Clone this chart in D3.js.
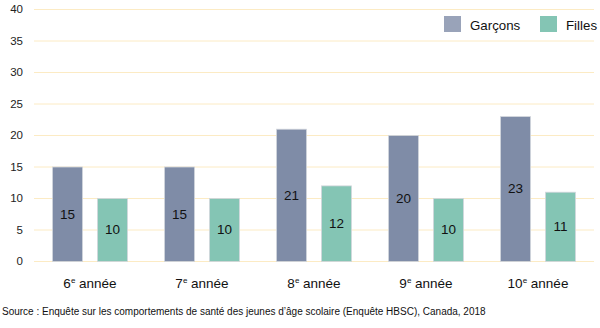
<!DOCTYPE html>
<html>
<head>
<meta charset="utf-8">
<script src="https://cdn.jsdelivr.net/npm/d3@7"></script>
<style>
  html, body { margin: 0; padding: 0; background: #fff; }
  svg { display: block; font-family: "Liberation Sans", Arial, sans-serif; }
</style>
</head>
<body>
<svg id="chart" width="600" height="328"></svg>
<script>
// Grade levels and percentages by gender
const grades = ["6", "7", "8", "9", "10"];
const garcons = [15, 15, 21, 20, 23];
const filles = [10, 10, 12, 10, 11];
const yTicks = [0, 5, 10, 15, 20, 25, 30, 35, 40];
const seriesNames = ["Garçons", "Filles"];
const colors = ["#7f8ca7", "#84c5b4"];
const sourceText = "Source : Enquête sur les comportements de santé des jeunes d’âge scolaire (Enquête HBSC), Canada, 2018";

(function () {
  const svg = d3.select("#chart");
  const plotLeft = 34, plotRight = 594, plotTop = 9, plotBottom = 261;

  const x = d3.scaleBand().domain(grades).range([plotLeft, plotRight]).paddingInner(0).paddingOuter(0);
  const x1 = d3.scaleBand().domain(seriesNames).range([18, x.bandwidth() - 18]).paddingInner(0.31).paddingOuter(0);
  const y = d3.scaleLinear().domain([0, 40]).range([plotBottom, plotTop]);

  // gridlines
  svg.append("g").selectAll("line").data(yTicks).join("line")
    .attr("x1", plotLeft).attr("x2", plotRight)
    .attr("y1", d => y(d) + 0.5).attr("y2", d => y(d) + 0.5)
    .attr("stroke", "#fcebc4").attr("stroke-width", 1);

  // y axis labels
  const yAxis = d3.axisLeft(y).tickValues(yTicks).tickSize(0).tickPadding(0);
  svg.append("g").attr("transform", "translate(23,0)").call(yAxis)
    .call(g => g.select(".domain").remove())
    .call(g => g.selectAll("text").attr("font-size", 11.5).attr("fill", "#222")
      .attr("font-family", "Liberation Sans, Arial, sans-serif"));

  const rows = grades.map((g, i) => ({ grade: g, values: [garcons[i], filles[i]] }));

  const groups = svg.append("g").selectAll("g").data(rows).join("g")
    .attr("transform", d => `translate(${x(d.grade)},0)`);

  const cells = d => d.values.map((v, j) => ({ s: seriesNames[j], v, j }));

  groups.selectAll("rect").data(cells).join("rect")
    .attr("x", d => x1(d.s) + 0.5)
    .attr("width", x1.bandwidth() - 1)
    .attr("y", d => y(d.v) + 0.5)
    .attr("height", d => y(0) - y(d.v))
    .attr("fill", d => colors[d.j])
    .attr("stroke", "#d3d6dc").attr("stroke-width", 0.8);

  groups.selectAll("text.val").data(cells).join("text")
    .attr("class", "val")
    .attr("x", d => x1(d.s) + x1.bandwidth() / 2)
    .attr("y", d => (y(d.v) + y(0)) / 2)
    .attr("dy", "0.36em")
    .attr("text-anchor", "middle")
    .attr("font-size", 13.5)
    .attr("fill", "#111")
    .text(d => d.v);

  // category labels with superscript "e"
  const cat = svg.append("g").selectAll("text").data(grades).join("text")
    .attr("x", d => x(d) + x.bandwidth() / 2)
    .attr("y", 288)
    .attr("text-anchor", "middle")
    .attr("font-size", 13.5)
    .attr("fill", "#111");
  cat.append("tspan").text(d => d);
  cat.append("tspan").text("e").attr("font-size", 8).attr("dy", -5);
  cat.append("tspan").text(" année").attr("dy", 5);

  // legend
  const legend = svg.append("g");
  const legendX = [444, 540];
  seriesNames.forEach((name, j) => {
    legend.append("rect").attr("x", legendX[j]).attr("y", 16).attr("width", 17).attr("height", 16)
      .attr("fill", colors[j]).attr("opacity", j === 0 ? 0.8 : 1);
    legend.append("text").attr("x", legendX[j] + 26).attr("y", 29.5)
      .attr("font-size", 13.3).attr("fill", "#111").text(name);
  });

  // source note
  svg.append("text").attr("x", 2).attr("y", 315).attr("font-size", 10).attr("fill", "#111").text(sourceText);
})();
</script>
</body>
</html>
